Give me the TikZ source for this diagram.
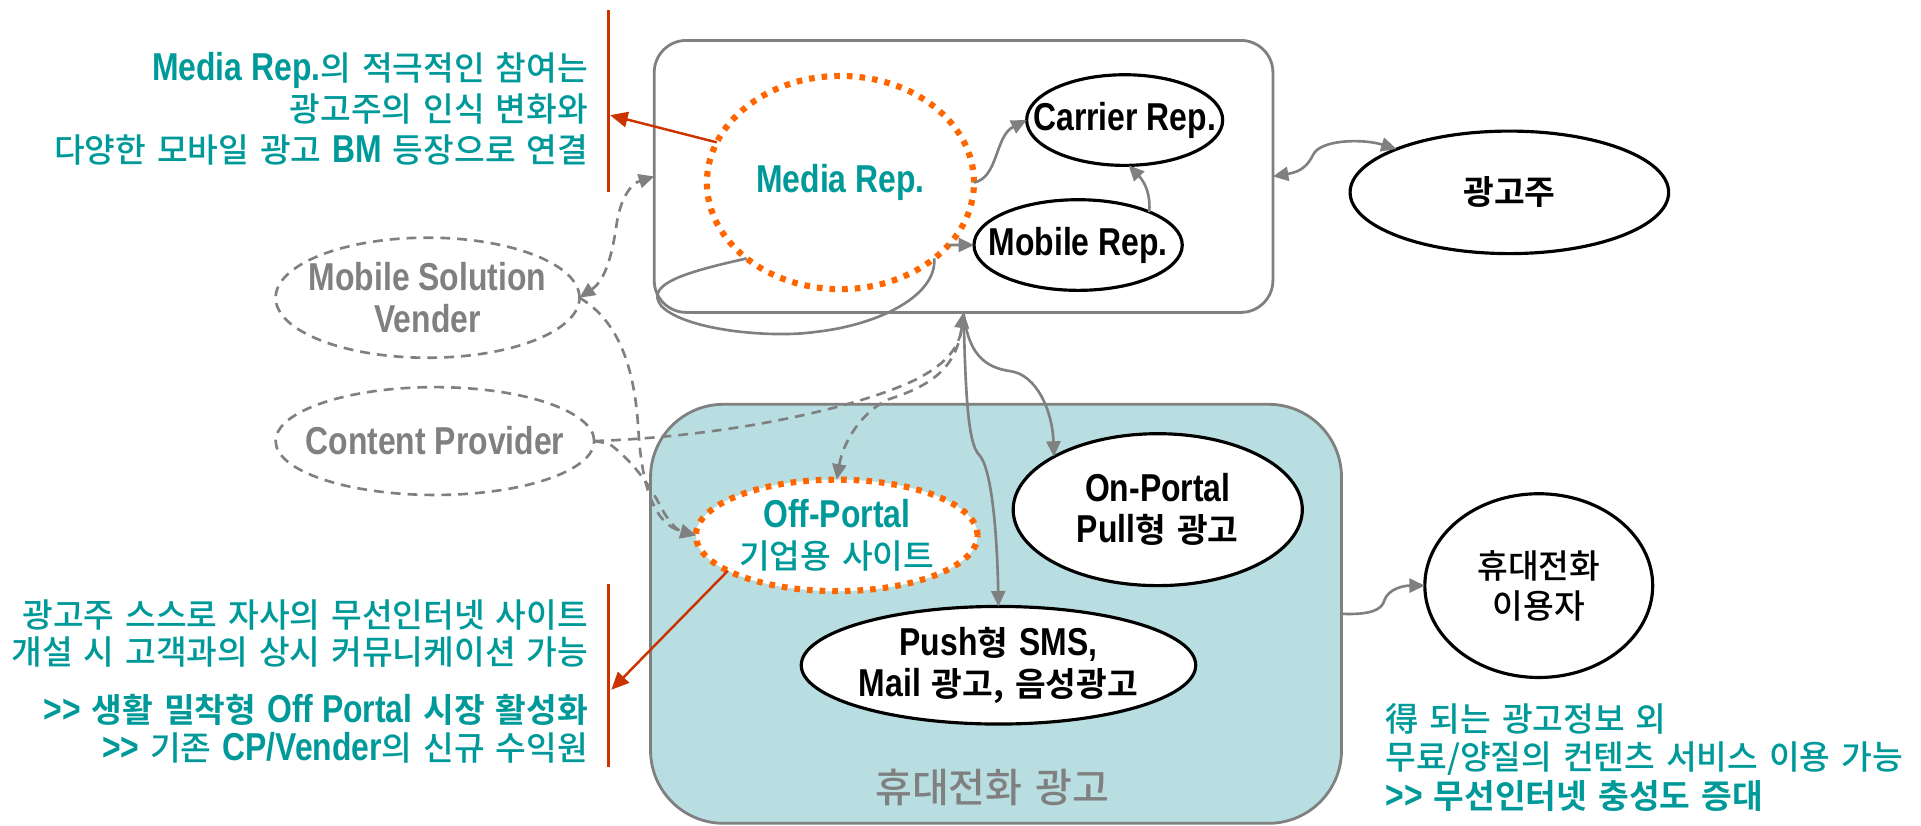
\documentclass[tikz,border=0pt]{standalone}
\usepackage{fontspec}
\setmainfont{Noto Sans CJK KR}[UprightFont=* Medium, BoldFont=* Bold, WordSpace=1.45]
\newfontfamily\latf{Liberation Sans}[FakeStretch=0.82,Scale=1.165]
\newcommand\la[1]{{\latf\bfseries #1}}
\usetikzlibrary{shapes.geometric,arrows.meta}

\definecolor{lineg}{HTML}{808080}
\definecolor{teal2}{HTML}{009999}
\definecolor{orng}{HTML}{FF6600}
\definecolor{redl}{HTML}{CC3300}
\definecolor{boxfill}{RGB}{184,222,225}
\newcommand\pxu{0.01225cm}

\tikzset{
  every node/.style={inner sep=0pt, outer sep=0pt},
  base/.style={font=\fontsize{9.5}{11.4}\selectfont},
  conn/.style={draw=lineg, line width=0.75pt},
  hd/.style={-{Triangle[length=4.4pt,width=4pt]}},
  hdtwo/.style={{Triangle[length=4.4pt,width=4pt]}-{Triangle[length=4.4pt,width=4pt]}},
  dashconn/.style={conn, dash pattern=on 2.8pt off 2pt},
  solidell/.style={ellipse, draw=black, line width=0.9pt, fill=white},
  dashell/.style={ellipse, draw=lineg, line width=0.75pt, dash pattern=on 2.8pt off 2pt, fill=white},
  dotell/.style={ellipse, draw=orng, line width=1.75pt, dash pattern=on 1.6pt off 2pt, fill=white},
  panel/.style={rectangle, draw=lineg, line width=0.8pt},
  ell/.style 2 args={minimum width=#1*\pxu, minimum height=#2*\pxu},
  lbl/.style={base, align=center},
  note/.style={base, text=teal2},
  redconn/.style={draw=redl, line width=0.7pt},
  redtip/.style={-{Triangle[length=5pt,width=4.4pt]}},
}

\begin{document}
\begin{tikzpicture}[x=\pxu, y=-\pxu]
\useasboundingbox (0,0) rectangle (1568,674);

% panels
\node[panel, fill=boxfill, rounded corners=0.73cm, ell={564}{342}] (phonebox) at (813,501) {};
\node[panel, rounded corners=0.32cm, ell={505}{222}] (topbox) at (786.5,144) {};

% ellipses
\node[dotell, ell={218}{174}] (media) at (686,149) {};
\node[solidell, ell={160}{74}] (carrier) at (918,98) {};
\node[solidell, ell={170}{74}] (mobile) at (880,200) {};
\node[solidell, ell={260}{100}] (adv) at (1232,157) {};
\node[dashell, ell={248}{98}] (msv) at (349,243) {};
\node[dashell, ell={260}{88}] (cp) at (355,360) {};
\node[dotell, ell={230}{91}] (off) at (683,437) {};
\node[solidell, ell={236}{124}] (onp) at (945,416) {};
\node[solidell, ell={322}{96}] (push) at (815,543) {};
\node[solidell, ell={186}{150}] (user) at (1256,478) {};

% labels inside shapes
\node[lbl, text=teal2] at (media) {\la{Media Rep.}};
\node[lbl] at (carrier) {\la{Carrier Rep.}};
\node[lbl] at (mobile) {\la{Mobile Rep.}};
\node[lbl] at (adv) {\bfseries 광고주};
\node[lbl, text=lineg, font=\fontsize{9.5}{11.8}\selectfont] at (msv) {\la{Mobile Solution}\\\la{Vender}};
\node[lbl, text=lineg] at (cp) {\la{Content Provider}};
\node[lbl, text=teal2, font=\fontsize{9.5}{11.6}\selectfont] at (off) {\la{Off-Portal}\\기업용 사이트};
\node[lbl, font=\fontsize{9.5}{11.6}\selectfont] at (onp) {\la{On-Portal}\\{\bfseries\la{Pull}형 광고}};
\node[lbl, font=\fontsize{9.5}{11.8}\selectfont] at (push) {\la{Push}{\bfseries 형} \la{SMS,}\\\la{Mail} {\bfseries 광고, 음성광고}};
\node[lbl, font=\fontsize{9.5}{11.4}\selectfont] at (user) {휴대전화\\이용자};
\node[text=lineg, font=\fontsize{11.4}{13}\selectfont] (boxtitle) at (810,643) {휴대전화 광고};

% side notes
\node[note, anchor=east, align=right, font=\fontsize{9.5}{11.7}\selectfont] (notetl) at (480,89)
  {\la{Media Rep.}의 적극적인 참여는\\광고주의 인식 변화와\\다양한 모바일 광고 \la{BM} 등장으로 연결};
\node[note, anchor=east, align=right, font=\fontsize{9.5}{10.7}\selectfont] (notebl) at (480,517)
  {광고주 스스로 자사의 무선인터넷 사이트\\개설 시 고객과의 상시 커뮤니케이션 가능};
\node[note, anchor=east, align=right, font=\fontsize{9.5}{10.7}\selectfont] (notebl2) at (480,595)
  {\la{>>} {\bfseries 생활 밀착형} \la{Off Portal} {\bfseries 시장 활성화}\\\la{>>} 기존 \la{CP/Vender}의 신규 수익원};
\node[note, anchor=west, align=left, font=\fontsize{9.5}{11}\selectfont] (notebr) at (1131,618)
  {得 되는 광고정보 외\\무료/양질의 컨텐츠 서비스 이용 가능\\\la{>>} {\bfseries 무선인터넷 충성도 증대}};

% red markers
\coordinate (rtA) at (497,8);
\coordinate (rtB) at (497,157);
\coordinate (rtT) at (498,94);
\coordinate (rbA) at (497,477);
\coordinate (rbB) at (497,626);
\coordinate (rbT) at (499,563);
\draw[redconn, line width=0.9pt] (rtA) -- (rtB);
\draw[redconn, line width=0.9pt] (rbA) -- (rbB);
\draw[redconn, redtip] (media.162) -- (rtT);
\draw[redconn, redtip] (off.198) -- (rbT);

% connectors inside the media box
\draw[conn, hd] (media.east) .. controls (815,145) and (812,111) .. (carrier.west);
\draw[conn, hd] (media.-30) -- (mobile.west);
\draw[conn, hd] (mobile.25) .. controls (940,152) and (928,142) .. (carrier.-85);
\draw[conn] (media.219) .. controls (560,222) and (525,232) .. (540,250)
  .. controls (560,270) and (630,276) .. (665,271)
  .. controls (720,265) and (765,240) .. (media.-39);

% advertiser and user links
\draw[conn, hdtwo] (topbox.east) .. controls (1063,140) and (1068,134) .. (1072,126)
  .. controls (1078,114) and (1112,113) .. (adv.159);
\draw[conn, hd] (phonebox.east) .. controls (1118,502) and (1128,498) .. (1130,490)
  .. controls (1133,481) and (1145,478) .. (user.west);

% dashed partner links
\draw[dashconn, hdtwo] (msv.east) .. controls (495,228) and (500,205) .. (503,185)
  .. controls (506,162) and (515,150) .. (topbox.west);
\draw[dashconn, hd] (msv.east) .. controls (505,262) and (518,300) .. (521,350)
  .. controls (524,400) and (535,428) .. (off.west);
\draw[dashconn, hd] (cp.east) -- (497,362) .. controls (515,375) and (530,395) .. (540,415)
  .. controls (546,426) and (553,433) .. (off.west);
\draw[dashconn, hd] (cp.east) .. controls (600,356) and (700,332) .. (745,311)
  .. controls (770,299) and (783,285) .. (topbox.south);
\draw[dashconn, hdtwo] (off.north) .. controls (688,362) and (702,337) .. (725,326)
  .. controls (760,315) and (781,300) .. (topbox.south);

% links from the media box into the ad types
\draw[conn, hd] (topbox.south) .. controls (790,288) and (803,300) .. (825,303)
  .. controls (846,306) and (859,335) .. (onp.153);
\draw[conn, hd] (topbox.south) .. controls (788,320) and (790,362) .. (799,371)
  .. controls (810,382) and (814,440) .. (push.north);
\end{tikzpicture}
\end{document}
